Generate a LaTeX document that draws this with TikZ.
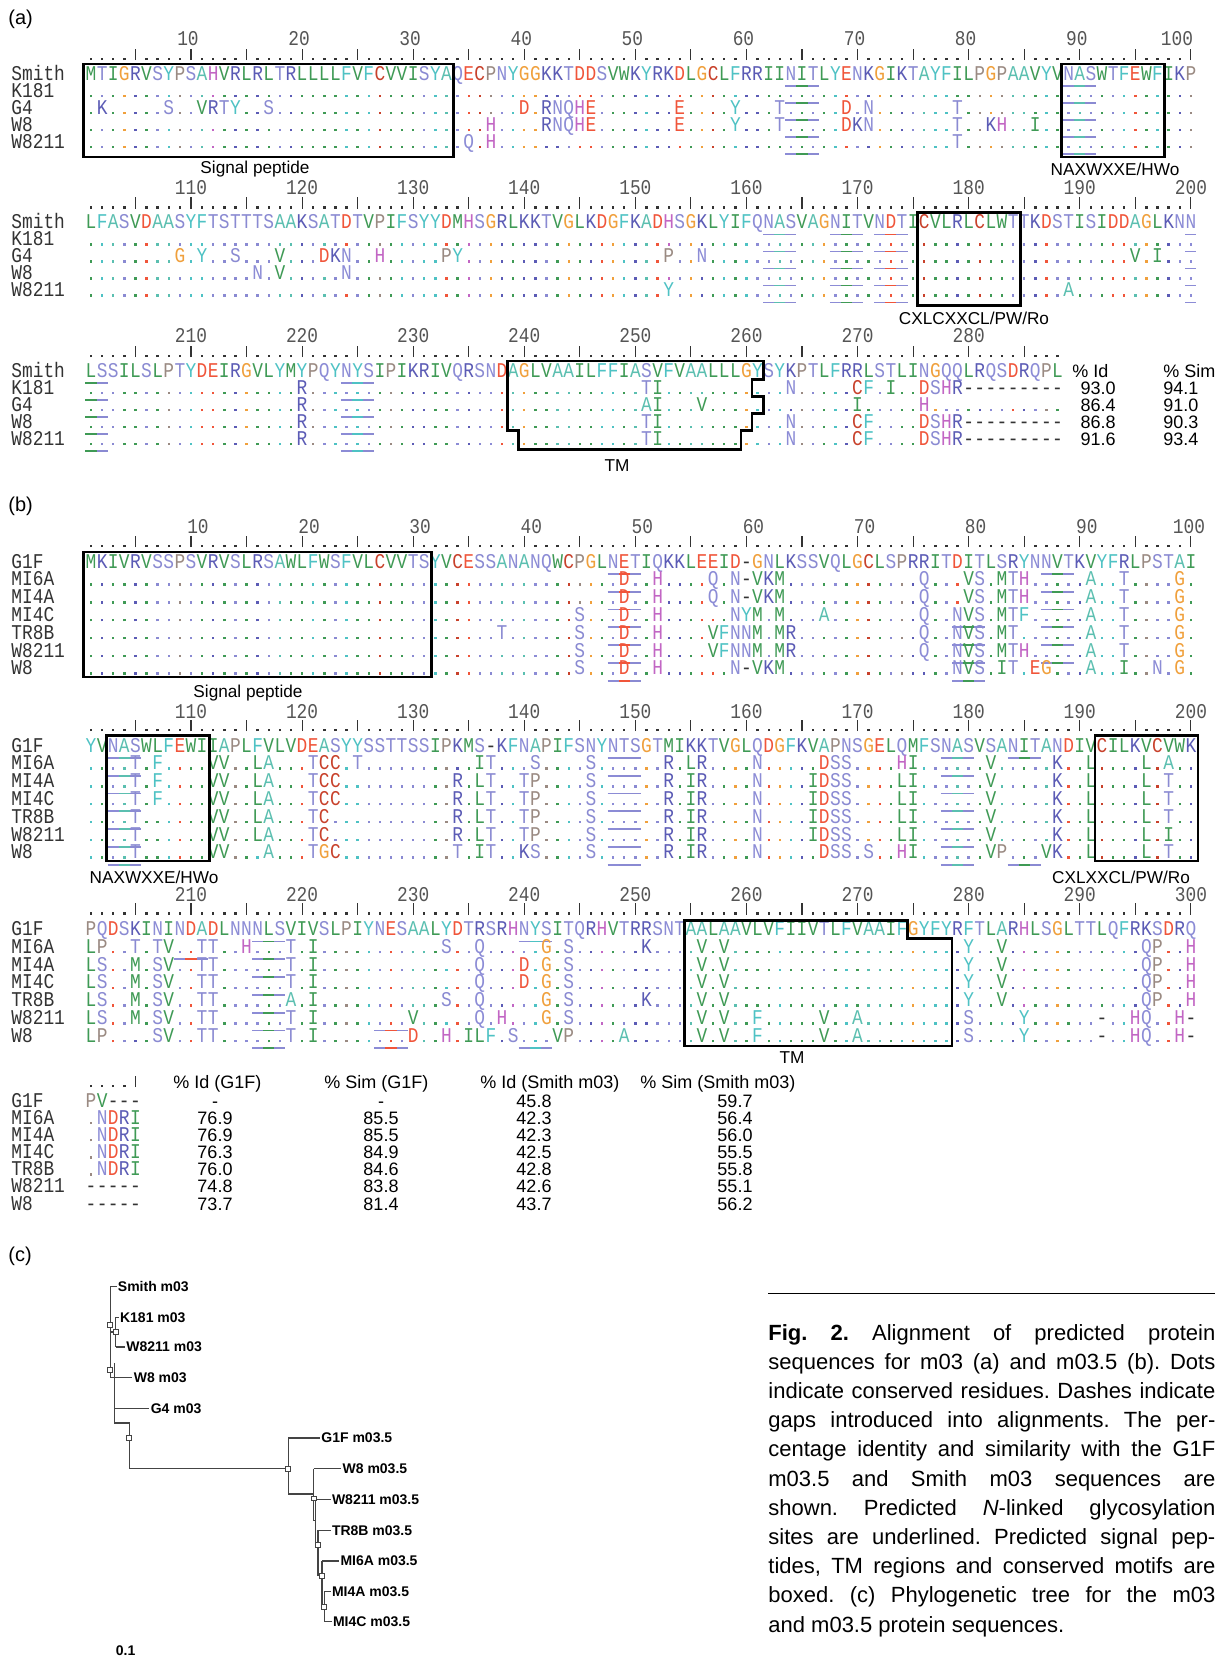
\documentclass[tikz,border=0pt]{standalone}
\usepackage{fontspec}
\setmainfont{Liberation Sans}
\newfontfamily\seqfont{Liberation Mono}[FakeStretch=0.85]
\definecolor{aaG}{HTML}{3F9A55}
\definecolor{aaF}{HTML}{4EC2C4}
\definecolor{aaA}{HTML}{5BBFB0}
\definecolor{aaO}{HTML}{F0A03C}
\definecolor{aaP}{HTML}{9A8A82}
\definecolor{aaD}{HTML}{F0553A}
\definecolor{aaC}{HTML}{C8412B}
\definecolor{aaK}{HTML}{5B5BB5}
\definecolor{aaS}{HTML}{8A8AD2}
\definecolor{aaN}{HTML}{8C8CD6}
\definecolor{aaH}{HTML}{C266C4}
\definecolor{aaX}{HTML}{333333}
\definecolor{numC}{HTML}{555555}
\definecolor{nameC}{HTML}{333333}
\definecolor{treeC}{HTML}{444444}

\ExplSyntaxOn
\str_new:N \l__sq_top_str
\str_new:N \l__sq_row_str
\str_new:N \l__sq_ch_str
\str_new:N \l__sq_cc_str
\tl_new:N \l__sq_val_tl
\clist_new:N \l__sq_ul_clist
\prop_new:N \l__sq_sub_prop
\dim_new:N \l_sq_pitch_dim
\dim_set:Nn \l_sq_pitch_dim {5.555pt}
\cs_new_protected:Npn \__sq_setcolor:n #1
  {
    \str_case:nnF {#1}
      {
        {L}{\color{aaG}} {V}{\color{aaG}} {I}{\color{aaG}} {M}{\color{aaG}} {W}{\color{aaG}}
        {F}{\color{aaF}} {Y}{\color{aaF}} {A}{\color{aaA}}
        {G}{\color{aaO}} {P}{\color{aaP}}
        {D}{\color{aaD}} {E}{\color{aaD}} {C}{\color{aaC}}
        {K}{\color{aaK}} {R}{\color{aaK}}
        {S}{\color{aaS}} {T}{\color{aaS}} {N}{\color{aaN}} {Q}{\color{aaN}}
        {H}{\color{aaH}}
      }
      { \color{aaX} }
  }
\cs_generate_variant:Nn \__sq_setcolor:n { V }
\cs_new_protected:Npn \__sq_core:
  {
    \int_step_inline:nn { \str_count:N \l__sq_row_str }
      {
        \str_set:Nx \l__sq_ch_str { \str_item:Nn \l__sq_row_str {##1} }
        \str_if_eq:VnTF \l__sq_ch_str { . }
          { \str_set:Nx \l__sq_cc_str { \str_item:Nn \l__sq_top_str {##1} } }
          { \str_set_eq:NN \l__sq_cc_str \l__sq_ch_str }
        \group_begin:
        \__sq_setcolor:V \l__sq_cc_str
        \clist_if_in:NnT \l__sq_ul_clist {##1}
          { \rlap { \rule [ -3.4pt ] { \l_sq_pitch_dim } { 0.9pt } } }
        \str_if_eq:VnTF \l__sq_ch_str { | }
          { \hbox_to_wd:nn \l_sq_pitch_dim { \hss \vrule ~ width ~ 0.55pt ~ height ~ 5.6pt ~ depth ~ 0pt \hss } }
          {
            \str_if_eq:VnTF \l__sq_ch_str { . }
              { \hbox_to_wd:nn \l_sq_pitch_dim { \hss \vrule ~ width ~ 1.2pt ~ height ~ 1.2pt ~ depth ~ 0pt \hss } }
              { \hbox_to_wd:nn \l_sq_pitch_dim { \hss \l__sq_ch_str \hss } }
          }
        \group_end:
      }
  }
\NewDocumentCommand \SQfull { m m m }
  {
    \str_set:Nx \l__sq_top_str {#1}
    \str_set:Nx \l__sq_row_str {#2}
    \clist_set:Nn \l__sq_ul_clist {#3}
    \__sq_core:
  }
\NewDocumentCommand \SQsub { m m m m }
  {
    \str_set:Nx \l__sq_top_str {#1}
    \prop_set_from_keyval:Nn \l__sq_sub_prop {#3}
    \str_clear:N \l__sq_row_str
    \int_step_inline:nn {#2}
      {
        \prop_get:NnNTF \l__sq_sub_prop {##1} \l__sq_val_tl
          { \str_put_right:Nx \l__sq_row_str { \tl_to_str:N \l__sq_val_tl } }
          { \str_put_right:Nn \l__sq_row_str { . } }
      }
    \clist_set:Nn \l__sq_ul_clist {#4}
    \__sq_core:
  }
\ExplSyntaxOff

\def\TopAi{MTIGRVSYPSAHVRLRLTRLLLLFVFCVVISYAQECPNYGGKKTDDSVWKYRKDLGCLFRRIINITLYENKGIKTAYFILPGPAAVYVNASWTFEWFIKP}
\def\TopAii{LFASVDAASYFTSTTTSAAKSATDTVPIFSYYDMHSGRLKKTVGLKDGFKADHSGKLYIFQNASVAGNITVNDTICVLRLCLWTTKDSTISIDDAGLKNN}
\def\TopAiii{LSSILSLPTYDEIRGVLYMYPQYNYSIPIKRIVQRSNDAGLVAAILFFIASVFVAALLLGYSYKPTLFRRLSTLINGQQLRQSDRQPL}
\def\TopBi{MKIVRVSSPSVRVSLRSAWLFWSFVLCVVTSYVCESSANANQWCPGLNETIQKKLEEID-GNLKSSVQLGCLSPRRITDITLSRYNNVTKVYFRLPSTAI}
\def\TopBii{YVNASWLFEWIIAPLFVLVDEASYYSSTTSSIPKMS-KFNAPIFSNYNTSGTMIKKTVGLQDGFKVAPNSGELQMFSNASVSANITANDIVCILKVCVWK}
\def\TopBiii{PQDSKININDADLNNNLSVIVSLPIYNESAALYDTRSRHNYSITQRHVTRRSNTAALAAVLVFIIVTLFVAAIFGYFYRFTLARHLSGLTTLQFRKSDRQ}
\def\TopBt{PV---}
\def\RulerH{....|....|....|....|....|....|....|....|....|....|....|....|....|....|....|....|....|....|....|....|}
\def\RulerE{....|....|....|....|....|....|....|....|....|....|....|....|....|....|....|....|....|...}
\def\RulerT{....|}
\def\xo{85.445}

\tikzset{
  seqrow/.style={anchor=base west, inner sep=0pt, outer sep=0pt, font=\seqfont\fontsize{10.5pt}{12pt}\selectfont},
  namelab/.style={anchor=base west, inner sep=0pt, font=\seqfont\fontsize{10.5pt}{12pt}\selectfont, text=nameC},
  numlab/.style={anchor=base, inner sep=0pt, font=\seqfont\fontsize{10.5pt}{12pt}\selectfont, text=numC},
  boxline/.style={draw=black, line width=1.3pt},
  motif/.style={anchor=center, inner sep=0pt, font=\fontsize{8.6pt}{10pt}\selectfont},
  pct/.style={anchor=base, inner sep=0pt, font=\fontsize{9pt}{10pt}\selectfont},
  panel/.style={anchor=west, inner sep=0pt, font=\fontsize{10pt}{12pt}\selectfont},
  tree/.style={draw=treeC, line width=0.7pt},
  leaf/.style={anchor=west, inner sep=0.5pt, font=\bfseries\fontsize{7pt}{8pt}\selectfont},
  tnode/.style={draw=treeC, fill=white, line width=0.4pt, minimum size=2.4pt, inner sep=0pt, rectangle}
}

\begin{document}
\begin{tikzpicture}[x=0.5pt,y=-0.5pt]
\path[use as bounding box, fill=white] (0,0) rectangle (1226,1662);

% ===================== panel (a) =====================
\node[panel] (pa) at (8,19) {(a)};

% --- block a1 ---
\foreach \k [evaluate=\k as \lab using int(10*\k)] in {1,...,9}
  \node[numlab] (a1n\k) at ({88+(10*\k-1)*11.11},45.5) {\lab};
\node[numlab] (a1n10) at (1177,45.5) {100};
\node[seqrow] (a1r) at (\xo,60) {\SQfull{\RulerH}{\RulerH}{}};
\foreach \nm [count=\i] in {Smith,K181,G4,W8,W8211}
  \node[namelab] (a1nm\i) at (11,{80+17*(\i-1)}) {\nm};
\node[seqrow] (a1s) at (\xo,80) {\SQfull{\TopAi}{\TopAi}{64,65,66,89,90,91}};
\node[seqrow] (a1k) at (\xo,97) {\SQsub{\TopAi}{100}{}{64,65,66,89,90,91}};
\node[seqrow] (a1g) at (\xo,114) {\SQsub{\TopAi}{100}{2=K,8=S,11=V,12=R,13=T,14=Y,17=S,40=D,42=R,43=N,44=Q,45=H,46=E,54=E,59=Y,63=T,69=D,71=N,79=T}{64,65,66,89,90,91}};
\node[seqrow] (a1w) at (\xo,131) {\SQsub{\TopAi}{100}{37=H,42=R,43=N,44=Q,45=H,46=E,54=E,59=Y,63=T,69=D,70=K,71=N,79=T,82=K,83=H,86=I}{64,65,66,89,90,91}};
\node[seqrow] (a1x) at (\xo,148) {\SQsub{\TopAi}{100}{35=Q,37=H,79=T}{64,65,66,89,90,91}};
\draw[boxline] (83.5,64) rectangle (453.6,157);
\draw[boxline] (1061.6,64) rectangle (1164.6,157);
\node[motif] (a1sp) at (255,169.5) {Signal peptide};
\node[motif] (a1nx) at (1115,169.5) {NAXWXXE/HWo};

% --- block a2 ---
\foreach \k [evaluate=\k as \lab using int(10*\k+100)] in {1,...,10}
  \node[numlab] (a2n\k) at ({91+(10*\k-1)*11.11},194) {\lab};
\node[seqrow] (a2r) at (\xo,208.5) {\SQfull{\RulerH}{\RulerH}{}};
\foreach \nm [count=\i] in {Smith,K181,G4,W8,W8211}
  \node[namelab] (a2nm\i) at (11,{228.5+17*(\i-1)}) {\nm};
\node[seqrow] (a2s) at (\xo,228.5) {\SQfull{\TopAii}{\TopAii}{62,63,64,68,69,70,72,73,74,100}};
\node[seqrow] (a2k) at (\xo,245.5) {\SQsub{\TopAii}{100}{}{62,63,64,68,69,70,72,73,74,100}};
\node[seqrow] (a2g) at (\xo,262.5) {\SQsub{\TopAii}{100}{9=G,11=Y,14=S,18=V,22=D,23=K,24=N,27=H,33=P,34=Y,53=P,56=N,95=V,97=I}{62,63,64,68,69,70,72,73,74,100}};
\node[seqrow] (a2w) at (\xo,279.5) {\SQsub{\TopAii}{100}{16=N,18=V,24=N}{62,63,64,68,69,70,72,73,74,100}};
\node[seqrow] (a2x) at (\xo,296.5) {\SQsub{\TopAii}{100}{53=Y,89=A}{62,63,64,68,69,70,72,73,74,100}};
\draw[boxline] (917.2,212.5) rectangle (1020.2,305.5);
\node[motif] (a2cx) at (974,318) {CXLCXXCL/PW/Ro};

% --- block a3 ---
\foreach \k [evaluate=\k as \lab using int(10*\k+200)] in {1,...,8}
  \node[numlab] (a3n\k) at ({91+(10*\k-1)*11.11},342.5) {\lab};
\node[seqrow] (a3r) at (\xo,357) {\SQfull{\RulerE}{\RulerE}{}};
\foreach \nm [count=\i] in {Smith,K181,G4,W8,W8211}
  \node[namelab] (a3nm\i) at (11,{377+17*(\i-1)}) {\nm};
\node[seqrow] (a3s) at (\xo,377) {\SQfull{\TopAiii}{\TopAiii}{1,2,24,25,26}};
\node[seqrow] (a3k) at (\xo,394) {\SQsub{\TopAiii}{88}{20=R,51=T,52=I,64=N,70=C,71=F,73=I,76=D,77=S,78=H,79=R,80=-,81=-,82=-,83=-,84=-,85=-,86=-,87=-,88=-}{1,2,24,25,26}};
\node[seqrow] (a3g) at (\xo,411) {\SQsub{\TopAiii}{88}{20=R,51=A,52=I,56=V,70=I,76=H}{1,2,24,25,26}};
\node[seqrow] (a3w) at (\xo,428) {\SQsub{\TopAiii}{88}{20=R,51=T,52=I,64=N,70=C,71=F,76=D,77=S,78=H,79=R,80=-,81=-,82=-,83=-,84=-,85=-,86=-,87=-,88=-}{1,2,24,25,26}};
\node[seqrow] (a3x) at (\xo,445) {\SQsub{\TopAiii}{88}{20=R,51=T,52=I,64=N,70=C,71=F,76=D,77=S,78=H,79=R,80=-,81=-,82=-,83=-,84=-,85=-,86=-,87=-,88=-}{1,2,24,25,26}};
\draw[boxline] (507.6,361) -- (763.2,361) -- (763.2,379.5) -- (752.1,379.5) -- (752.1,396.5) -- (763.2,396.5) -- (763.2,413.5) -- (752.1,413.5) -- (752.1,430.5) -- (741,430.5) -- (741,449.5) -- (518.7,449.5) -- (518.7,430.5) -- (507.6,430.5) -- cycle;
\node[motif] (a3tm) at (617,466) {TM};
% percentages (a)
\node[pct, anchor=base west] (aidh) at (1072,377) {\% Id};
\node[pct, anchor=base west] (asimh) at (1163,377) {\% Sim};
\foreach \v/\s [count=\i] in {93.0/94.1,86.4/91.0,86.8/90.3,91.6/93.4} {
  \node[pct, anchor=base east] (aid\i) at (1116,{377+17*\i}) {\v};
  \node[pct, anchor=base west] (asim\i) at (1163,{377+17*\i}) {\s};
}

% ===================== panel (b) =====================
\node[panel] (pb) at (8,506.5) {(b)};

% --- block b1 ---
\foreach \k [evaluate=\k as \lab using int(10*\k)] in {1,...,9}
  \node[numlab] (b1n\k) at ({98+(10*\k-1)*11.11},533.5) {\lab};
\node[numlab] (b1n10) at (1189,533.5) {100};
\node[seqrow] (b1r) at (\xo,547) {\SQfull{\RulerH}{\RulerH}{}};
\foreach \nm [count=\i] in {G1F,MI6A,MI4A,MI4C,TR8B,W8211,W8}
  \node[namelab] (b1nm\i) at (11,{568+17.8*(\i-1)}) {\nm};
\node[seqrow] (b1a) at (\xo,568) {\SQfull{\TopBi}{\TopBi}{48,49,50,87,88,89}};
\node[seqrow] (b1b) at (\xo,585.8) {\SQsub{\TopBi}{100}{49=D,52=H,57=Q,59=N,60=-,61=V,62=K,63=M,76=Q,80=V,81=S,83=M,84=T,85=H,91=A,94=T,99=G}{48,49,50,87,88,89}};
\node[seqrow] (b1c) at (\xo,603.6) {\SQsub{\TopBi}{100}{49=D,52=H,57=Q,59=N,60=-,61=V,62=K,63=M,76=Q,80=V,81=S,83=M,84=T,85=H,91=A,94=T,99=G}{48,49,50,87,88,89}};
\node[seqrow] (b1d) at (\xo,621.4) {\SQsub{\TopBi}{100}{45=S,49=D,52=H,59=N,60=Y,61=M,63=M,67=A,76=Q,79=N,80=V,81=S,83=M,84=T,85=F,91=A,94=T,99=G}{48,49,50,79,80,81,87,88,89}};
\node[seqrow] (b1e) at (\xo,639.2) {\SQsub{\TopBi}{100}{38=T,45=S,49=D,52=H,57=V,58=F,59=N,60=N,61=M,63=M,64=R,76=Q,79=N,80=V,81=S,83=M,84=T,91=A,94=T,99=G}{48,49,50,79,80,81,87,88,89}};
\node[seqrow] (b1f) at (\xo,657) {\SQsub{\TopBi}{100}{45=S,49=D,52=H,57=V,58=F,59=N,60=N,61=M,63=M,64=R,76=Q,79=N,80=V,81=S,83=M,84=T,85=H,91=A,94=T,99=G}{48,49,50,79,80,81,87,88,89}};
\node[seqrow] (b1g) at (\xo,674.8) {\SQsub{\TopBi}{100}{45=S,49=D,52=H,59=N,60=-,61=V,62=K,63=M,79=N,80=V,81=S,83=I,84=T,86=E,87=G,91=A,94=I,97=N,99=G}{48,49,50,79,80,81}};
\draw[boxline] (83.5,552) rectangle (431.4,677);
\node[motif] (b1sp) at (248,693) {Signal peptide};

% --- block b2 ---
\foreach \k [evaluate=\k as \lab using int(10*\k+100)] in {1,...,10}
  \node[numlab] (b2n\k) at ({91+(10*\k-1)*11.11},718) {\lab};
\node[seqrow] (b2r) at (\xo,731) {\SQfull{\RulerH}{\RulerH}{}};
\foreach \nm [count=\i] in {G1F,MI6A,MI4A,MI4C,TR8B,W8211,W8}
  \node[namelab] (b2nm\i) at (11,{752+17.8*(\i-1)}) {\nm};
\node[seqrow] (b2a) at (\xo,752) {\SQfull{\TopBii}{\TopBii}{3,4,5,48,49,50,78,79,80,84,85,86}};
\node[seqrow] (b2b) at (\xo,769.8) {\SQsub{\TopBii}{100}{5=T,7=F,12=V,13=V,16=L,17=A,21=T,22=C,23=C,25=T,36=I,37=T,41=S,46=S,53=R,55=L,56=R,61=N,67=D,68=S,69=S,74=H,75=I,82=V,88=K,91=L,96=L,98=A}{3,4,5,48,49,50,78,79,80}};
\node[seqrow] (b2c) at (\xo,787.6) {\SQsub{\TopBii}{100}{5=T,7=F,12=V,13=V,16=L,17=A,21=T,22=C,23=C,34=R,36=L,37=T,40=T,41=P,46=S,53=R,55=I,56=R,61=N,66=I,67=D,68=S,69=S,74=L,75=I,82=V,88=K,91=L,96=L,98=T}{3,4,5,48,49,50,78,79,80}};
\node[seqrow] (b2d) at (\xo,805.4) {\SQsub{\TopBii}{100}{5=T,7=F,12=V,13=V,16=L,17=A,21=T,22=C,23=C,34=R,36=L,37=T,40=T,41=P,46=S,53=R,55=I,56=R,61=N,66=I,67=D,68=S,69=S,74=L,75=I,82=V,88=K,91=L,96=L,98=T}{3,4,5,48,49,50,78,79,80}};
\node[seqrow] (b2e) at (\xo,823.2) {\SQsub{\TopBii}{100}{5=T,12=V,13=V,16=L,17=A,21=T,22=C,34=R,36=L,37=T,40=T,41=P,46=S,53=R,55=I,56=R,61=N,66=I,67=D,68=S,69=S,74=L,75=I,82=V,88=K,91=L,96=L,98=T}{3,4,5,48,49,50,78,79,80}};
\node[seqrow] (b2f) at (\xo,841) {\SQsub{\TopBii}{100}{5=T,12=V,13=V,16=L,17=A,21=T,22=C,34=R,36=L,37=T,40=T,41=P,46=S,53=R,55=I,56=R,61=N,66=I,67=D,68=S,69=S,74=L,75=I,82=V,88=K,91=L,96=L,98=I}{3,4,5,48,49,50,78,79,80}};
\node[seqrow] (b2g) at (\xo,858.8) {\SQsub{\TopBii}{100}{5=T,12=V,13=V,17=A,21=T,22=G,23=C,34=T,36=I,37=T,40=K,41=S,46=S,53=R,55=I,56=R,61=N,67=D,68=S,69=S,71=S,74=H,75=I,82=V,83=P,87=V,88=K,91=L,96=L,98=T}{3,4,5,48,49,50,78,79,80,84,85,86}};
\draw[boxline] (106.2,735.5) rectangle (209.2,861);
\draw[boxline] (1094.9,735.5) rectangle (1198,861);
\node[motif] (b2nx) at (154,877) {NAXWXXE/HWo};
\node[motif] (b2cx) at (1121,877) {CXLXXCL/PW/Ro};

% --- block b3 ---
\foreach \k [evaluate=\k as \lab using int(10*\k+200)] in {1,...,10}
  \node[numlab] (b3n\k) at ({91+(10*\k-1)*11.11},901.5) {\lab};
\node[seqrow] (b3r) at (\xo,914.5) {\SQfull{\RulerH}{\RulerH}{}};
\foreach \nm [count=\i] in {G1F,MI6A,MI4A,MI4C,TR8B,W8211,W8}
  \node[namelab] (b3nm\i) at (11,{935.5+17.8*(\i-1)}) {\nm};
\node[seqrow] (b3a) at (\xo,935.5) {\SQfull{\TopBiii}{\TopBiii}{16,17,18,40,41,42}};
\node[seqrow] (b3b) at (\xo,953.3) {\SQsub{\TopBiii}{100}{1=L,2=P,5=T,7=T,8=V,11=T,12=T,15=H,19=T,21=I,33=S,36=Q,42=G,44=S,51=K,56=V,58=V,80=Y,83=V,96=Q,97=P,100=H}{9,10,11,16,17,18}};
\node[seqrow] (b3c) at (\xo,971.1) {\SQsub{\TopBiii}{100}{1=L,2=S,5=M,7=S,8=V,11=T,12=T,19=T,21=I,36=Q,40=D,42=G,44=S,56=V,58=V,80=Y,83=V,96=Q,97=P,100=H}{16,17,18}};
\node[seqrow] (b3d) at (\xo,988.9) {\SQsub{\TopBiii}{100}{1=L,2=S,5=M,7=S,8=V,11=T,12=T,19=T,21=I,36=Q,40=D,42=G,44=S,56=V,58=V,80=Y,83=V,96=Q,97=P,100=H}{16,17,18}};
\node[seqrow] (b3e) at (\xo,1006.7) {\SQsub{\TopBiii}{100}{1=L,2=S,5=M,7=S,8=V,11=T,12=T,19=A,21=I,33=S,36=Q,42=G,44=S,51=K,56=V,58=V,80=Y,83=V,96=Q,97=P,100=H}{16,17,18}};
\node[seqrow] (b3f) at (\xo,1024.5) {\SQsub{\TopBiii}{100}{1=L,2=S,5=M,7=S,8=V,11=T,12=T,19=T,21=I,30=V,36=Q,38=H,42=G,44=S,56=V,58=V,61=F,67=V,70=A,80=S,85=Y,92=-,95=H,96=Q,99=H,100=-}{16,17,18,27,28,29}};
\node[seqrow] (b3g) at (\xo,1042.3) {\SQsub{\TopBiii}{100}{1=L,2=P,7=S,8=V,11=T,12=T,19=T,21=I,30=D,33=H,35=I,36=L,37=F,39=S,43=V,44=P,49=A,56=V,58=V,61=F,67=V,70=A,80=S,85=Y,92=-,95=H,96=Q,99=H,100=-}{16,17,18,27,28,29,40,41,42}};
\draw[boxline] (684.5,920.5) -- (907.6,920.5) -- (907.6,938.4) -- (952,938.4) -- (952,1046) -- (684.5,1046) -- cycle;
\node[motif] (b3tm) at (792,1057.6) {TM};

% --- table (b) ---
\node[seqrow] (btr) at (\xo,1087) {\SQfull{\RulerT}{\RulerT}{}};
\node[pct, anchor=base west] (bh1) at (173,1088) {\% Id (G1F)};
\node[pct, anchor=base west] (bh2) at (324,1088) {\% Sim (G1F)};
\node[pct, anchor=base west] (bh3) at (480,1088) {\% Id (Smith m03)};
\node[pct, anchor=base west] (bh4) at (640,1088) {\% Sim (Smith m03)};
\foreach \nm/\sq/\va/\vb/\vc/\vd [count=\i] in {
  G1F/PV---/-/-/45.8/59.7,
  MI6A/.NDRI/76.9/85.5/42.3/56.4,
  MI4A/.NDRI/76.9/85.5/42.3/56.0,
  MI4C/.NDRI/76.3/84.9/42.5/55.5,
  TR8B/.NDRI/76.0/84.6/42.8/55.8,
  W8211/-----/74.8/83.8/42.6/55.1,
  W8/-----/73.7/81.4/43.7/56.2} {
  \node[namelab] (btn\i) at (11,{1107+17.17*(\i-1)}) {\nm};
  \node[seqrow] (bts\i) at (\xo,{1107+17.17*(\i-1)}) {\SQfull{\TopBt}{\sq}{}};
  \node[pct] (bta\i) at (215,{1107+17.17*(\i-1)}) {\va};
  \node[pct] (btb\i) at (381,{1107+17.17*(\i-1)}) {\vb};
  \node[pct] (btc\i) at (534,{1107+17.17*(\i-1)}) {\vc};
  \node[pct] (btd\i) at (735,{1107+17.17*(\i-1)}) {\vd};
}

% ===================== panel (c) =====================
\node[panel] (pc) at (8,1256) {(c)};
\begin{scope}[xscale=1.0597,yscale=1.0597]
  % m03 clade
  \draw[tree] (104,1214) -- (104,1300);
  \draw[tree] (104,1214) -- (110,1214);
  \draw[tree] (104,1257) -- (109,1257);
  \draw[tree] (109,1243) -- (109,1271);
  \draw[tree] (109,1243) -- (112,1243);
  \draw[tree] (109,1271) -- (118,1271);
  \draw[tree] (104,1300) -- (125,1300);
  \draw[tree] (108,1286) -- (108,1343);
  \draw[tree] (108,1329) -- (141,1329);
  \draw[tree] (108,1343) -- (122,1343) -- (122,1386) -- (272,1386);
  % m03.5 clade
  \draw[tree] (272,1357) -- (272,1410);
  \draw[tree] (272,1357) -- (302,1357);
  \draw[tree] (272,1410) -- (296,1410);
  \draw[tree] (296,1386) -- (296,1435);
  \draw[tree] (296,1386) -- (322,1386);
  \draw[tree] (296,1435) -- (298,1435);
  \draw[tree] (298,1415) -- (298,1458);
  \draw[tree] (298,1415) -- (312,1415);
  \draw[tree] (298,1458) -- (300,1458);
  \draw[tree] (300,1444) -- (300,1487);
  \draw[tree] (300,1444) -- (312,1444);
  \draw[tree] (300,1487) -- (304,1487);
  \draw[tree] (304,1473) -- (304,1516);
  \draw[tree] (304,1473) -- (320,1473);
  \draw[tree] (304,1516) -- (306,1516);
  \draw[tree] (306,1502) -- (306,1530);
  \draw[tree] (306,1502) -- (312,1502);
  \draw[tree] (306,1530) -- (313,1530);
  \node[tnode] (t1) at (104,1250) {};
  \node[tnode] (t2) at (109,1257) {};
  \node[tnode] (t3) at (104,1293) {};
  \node[tnode] (t4) at (122,1357) {};
  \node[tnode] (t5) at (272,1386) {};
  \node[tnode] (t6) at (296,1414) {};
  \node[tnode] (t7) at (300,1458) {};
  \node[tnode] (t8) at (304,1487) {};
  \node[tnode] (t9) at (306,1516) {};
  \node[leaf] (l1) at (110,1214) {Smith m03};
  \node[leaf] (l2) at (112,1243) {K181 m03};
  \node[leaf] (l3) at (118,1271) {W8211 m03};
  \node[leaf] (l4) at (125,1300) {W8 m03};
  \node[leaf] (l5) at (141,1329) {G4 m03};
  \node[leaf] (l6) at (302,1357) {G1F m03.5};
  \node[leaf] (l7) at (322,1386) {W8 m03.5};
  \node[leaf] (l8) at (312,1415) {W8211 m03.5};
  \node[leaf] (l9) at (312,1444) {TR8B m03.5};
  \node[leaf] (l10) at (320,1473) {MI6A m03.5};
  \node[leaf] (l11) at (312,1502) {MI4A m03.5};
  \node[leaf] (l12) at (313,1530) {MI4C m03.5};
  \node[leaf] (l13) at (108,1558) {0.1};
\end{scope}

% caption
\draw[line width=0.5pt] (768,1293) -- (1215,1293);
\node[anchor=base west, inner sep=0pt] (cap) at (768,1340) {\parbox[t]{223.5pt}{\fontsize{11pt}{14.6pt}\selectfont\frenchspacing
\textbf{Fig. 2.} Alignment of predicted protein\linebreak
sequences for m03 (a) and m03.5 (b). Dots\linebreak
indicate conserved residues. Dashes indicate\linebreak
gaps introduced into alignments. The per-\linebreak
centage identity and similarity with the G1F\linebreak
m03.5 and Smith m03 sequences are\linebreak
shown. Predicted \textit{N}-linked glycosylation\linebreak
sites are underlined. Predicted signal pep-\linebreak
tides, TM regions and conserved motifs are\linebreak
boxed. (c) Phylogenetic tree for the m03\linebreak
and m03.5 protein sequences.}};
\end{tikzpicture}
\end{document}
